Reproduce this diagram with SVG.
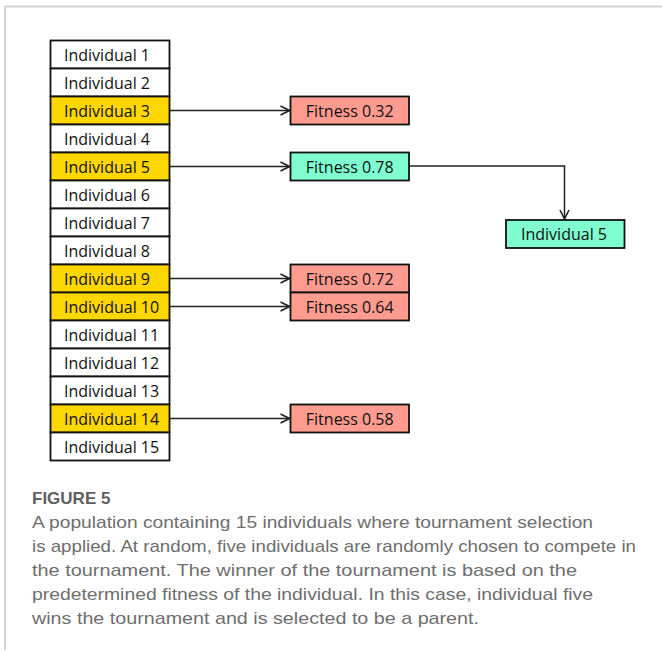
<svg xmlns="http://www.w3.org/2000/svg" width="662" height="653" viewBox="0 0 662 653">
<defs>
<style>
.box{stroke:#111;stroke-width:1.8}
.w{fill:#ffffff}
.y{fill:#ffd700}
.r{fill:#ff9b8f}
.g{fill:#7fffcf}
.t{font-family:"Open Sans","Liberation Sans",Arial,sans-serif;font-size:16px;fill:#111}
.c{font-family:"Liberation Sans",Arial,sans-serif;font-size:17px;fill:#6e6e6e}
.conn{fill:none;stroke:#222;stroke-width:1.5}
</style>
<marker id="arr" viewBox="0 0 12 12" refX="11" refY="6" markerWidth="12" markerHeight="12" markerUnits="userSpaceOnUse" orient="auto">
<path d="M2,1.5 L11,6 L2,10.5" fill="none" stroke="#222" stroke-width="1.6"/>
</marker>
</defs>
<rect width="662" height="653" fill="#fff"/>
<g id="frame">
<line x1="5" y1="6.5" x2="662" y2="6.5" stroke="#d3d3d3" stroke-width="2"/>
<line x1="5" y1="6" x2="5" y2="650" stroke="#d3d3d3" stroke-width="2"/>
</g>
<g id="ind1"><rect class="box w" x="50.5" y="40.5" width="119" height="28"/><text class="t" x="64" y="60.5">Individual 1</text></g>
<g id="ind2"><rect class="box w" x="50.5" y="68.5" width="119" height="28"/><text class="t" x="64" y="88.5">Individual 2</text></g>
<g id="ind3"><rect class="box y" x="50.5" y="96.5" width="119" height="28"/><text class="t" x="64" y="116.5">Individual 3</text></g>
<g id="ind4"><rect class="box w" x="50.5" y="124.5" width="119" height="28"/><text class="t" x="64" y="144.5">Individual 4</text></g>
<g id="ind5"><rect class="box y" x="50.5" y="152.5" width="119" height="28"/><text class="t" x="64" y="172.5">Individual 5</text></g>
<g id="ind6"><rect class="box w" x="50.5" y="180.5" width="119" height="28"/><text class="t" x="64" y="200.5">Individual 6</text></g>
<g id="ind7"><rect class="box w" x="50.5" y="208.5" width="119" height="28"/><text class="t" x="64" y="228.5">Individual 7</text></g>
<g id="ind8"><rect class="box w" x="50.5" y="236.5" width="119" height="28"/><text class="t" x="64" y="256.5">Individual 8</text></g>
<g id="ind9"><rect class="box y" x="50.5" y="264.5" width="119" height="28"/><text class="t" x="64" y="284.5">Individual 9</text></g>
<g id="ind10"><rect class="box y" x="50.5" y="292.5" width="119" height="28"/><text class="t" x="64" y="312.5">Individual 10</text></g>
<g id="ind11"><rect class="box w" x="50.5" y="320.5" width="119" height="28"/><text class="t" x="64" y="340.5">Individual 11</text></g>
<g id="ind12"><rect class="box w" x="50.5" y="348.5" width="119" height="28"/><text class="t" x="64" y="368.5">Individual 12</text></g>
<g id="ind13"><rect class="box w" x="50.5" y="376.5" width="119" height="28"/><text class="t" x="64" y="396.5">Individual 13</text></g>
<g id="ind14"><rect class="box y" x="50.5" y="404.5" width="119" height="28"/><text class="t" x="64" y="424.5">Individual 14</text></g>
<g id="ind15"><rect class="box w" x="50.5" y="432.5" width="119" height="28"/><text class="t" x="64" y="452.5">Individual 15</text></g>
<g id="fit032"><rect class="box r" x="290.5" y="96.5" width="118.5" height="28"/><text class="t" x="349.75" y="116.5" text-anchor="middle">Fitness 0.32</text></g>
<g id="fit078"><rect class="box g" x="290.5" y="152.5" width="118.5" height="28"/><text class="t" x="349.75" y="172.5" text-anchor="middle">Fitness 0.78</text></g>
<g id="fit072"><rect class="box r" x="290.5" y="264.5" width="118.5" height="28"/><text class="t" x="349.75" y="284.5" text-anchor="middle">Fitness 0.72</text></g>
<g id="fit064"><rect class="box r" x="290.5" y="292.5" width="118.5" height="28"/><text class="t" x="349.75" y="312.5" text-anchor="middle">Fitness 0.64</text></g>
<g id="fit058"><rect class="box r" x="290.5" y="404.5" width="118.5" height="28"/><text class="t" x="349.75" y="424.5" text-anchor="middle">Fitness 0.58</text></g>
<g id="winner"><rect class="box g" x="506" y="220" width="118.5" height="28"/><text class="t" x="564" y="240" text-anchor="middle">Individual 5</text></g>
<g id="connectors">
<line class="conn" x1="169.5" y1="110.5" x2="289.5" y2="110.5" marker-end="url(#arr)"/>
<line class="conn" x1="169.5" y1="166.5" x2="289.5" y2="166.5" marker-end="url(#arr)"/>
<line class="conn" x1="169.5" y1="278.5" x2="289.5" y2="278.5" marker-end="url(#arr)"/>
<line class="conn" x1="169.5" y1="306.5" x2="289.5" y2="306.5" marker-end="url(#arr)"/>
<line class="conn" x1="169.5" y1="418.5" x2="289.5" y2="418.5" marker-end="url(#arr)"/>
<polyline class="conn" points="409,166 564.5,166 564.5,219" marker-end="url(#arr)"/>
</g>
<g id="caption">
<text x="32" y="504" font-family="'Liberation Sans',Arial,sans-serif" font-size="17" font-weight="bold" fill="#5f5f5f">FIGURE 5</text>
<text class="c" x="32" y="528" textLength="561" lengthAdjust="spacingAndGlyphs">A population containing 15 individuals where tournament selection</text>
<text class="c" x="32" y="552" textLength="604" lengthAdjust="spacingAndGlyphs">is applied. At random, five individuals are randomly chosen to compete in</text>
<text class="c" x="32" y="576" textLength="545" lengthAdjust="spacingAndGlyphs">the tournament. The winner of the tournament is based on the</text>
<text class="c" x="32" y="600" textLength="561" lengthAdjust="spacingAndGlyphs">predetermined fitness of the individual. In this case, individual five</text>
<text class="c" x="32" y="624" textLength="447" lengthAdjust="spacingAndGlyphs">wins the tournament and is selected to be a parent.</text>
</g>
</svg>
